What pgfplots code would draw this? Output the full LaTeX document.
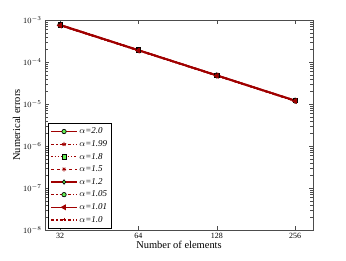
\documentclass[border=0pt]{standalone}
\usepackage{pgfplots}
\pgfplotsset{compat=1.18}
\usepackage{fontspec}
\setmainfont{Liberation Serif}
\usetikzlibrary{plotmarks}
\definecolor{lred}{HTML}{A00000}
\definecolor{mgreen}{HTML}{66EE55}
\pgfplotsset{ln/.style={lred, line width=1.3pt, mark size=2.2pt, mark options={solid, draw=black, fill=mgreen, line width=0.7pt}}}
\begin{document}
\begin{tikzpicture}
\begin{axis}[
  scale only axis, width=268bp, height=210bp,
  xmode=log, ymode=log, log basis x=2,
  xmin=28, xmax=300, ymin=1e-8, ymax=1e-3,
  xtick={32,64,128,256}, xticklabels={32,64,128,256},
  xminorticks=false,
  axis line style={gray!60!black},
  tick style={gray!60!black},
  tick label style={font=\fontsize{8}{9}\selectfont},
  label style={font=\fontsize{10.5}{12}\selectfont},
  xlabel={Number of elements}, ylabel={Numerical errors},
  xlabel style={yshift=5pt}, ylabel style={yshift=-4pt},
  legend style={at={(0.011,0.008)}, anchor=south west, draw=black, font=\fontsize{9}{10}\selectfont\itshape, inner sep=2.5pt, row sep=1.2pt},
  legend cell align=left,
  legend image code/.code={\draw[mark repeat=2,mark phase=2] plot coordinates {(0cm,0cm)(0.45cm,0cm)(0.9cm,0cm)};},
]
\addplot[ln, solid, mark=*] coordinates {(32,7.8e-4) (64,1.95e-4) (128,4.9e-5) (256,1.23e-5)};
\addlegendentry{$\alpha$=2.0}
\addplot[ln, dashdotted, mark=star, mark options={fill=black, line width=0.9pt}] coordinates {(32,7.75e-4) (64,1.94e-4) (128,4.88e-5) (256,1.22e-5)};
\addlegendentry{$\alpha$=1.99}
\addplot[ln, dotted, mark=square*] coordinates {(32,7.7e-4) (64,1.93e-4) (128,4.85e-5) (256,1.21e-5)};
\addlegendentry{$\alpha$=1.8}
\addplot[ln, dashed, mark=10-pointed star, mark options={fill=mgreen, line width=0.9pt}] coordinates {(32,7.6e-4) (64,1.91e-4) (128,4.8e-5) (256,1.2e-5)};
\addlegendentry{$\alpha$=1.5}
\addplot[ln, solid, mark=diamond*] coordinates {(32,7.5e-4) (64,1.89e-4) (128,4.75e-5) (256,1.19e-5)};
\addlegendentry{$\alpha$=1.2}
\addplot[ln, dashdotted, mark=*] coordinates {(32,7.45e-4) (64,1.88e-4) (128,4.72e-5) (256,1.18e-5)};
\addlegendentry{$\alpha$=1.05}
\addplot[ln, solid, mark=triangle*, mark options={rotate=90}] coordinates {(32,7.4e-4) (64,1.87e-4) (128,4.7e-5) (256,1.18e-5)};
\addlegendentry{$\alpha$=1.01}
\addplot[ln, dashdotted, mark=+, mark options={line width=1pt}] coordinates {(32,7.4e-4) (64,1.86e-4) (128,4.69e-5) (256,1.17e-5)};
\addlegendentry{$\alpha$=1.0}
\end{axis}
\path (current axis.south west) ++(-45bp,-31bp) coordinate (bbA);
\path (current axis.north east) ++(33bp,20bp) coordinate (bbB);
\useasboundingbox (bbA) rectangle (bbB);
\end{tikzpicture}
\end{document}
